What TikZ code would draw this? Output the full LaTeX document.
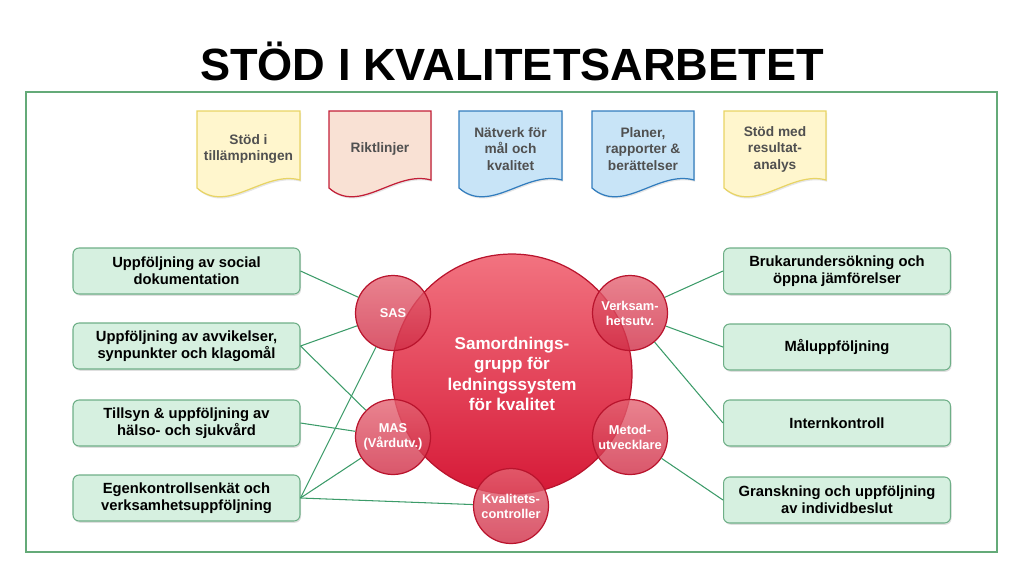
\documentclass[tikz,border=0pt]{standalone}
\usepackage{fontspec}
\setmainfont{Liberation Sans}
\usetikzlibrary{shadows}
\definecolor{framegreen}{RGB}{100,170,120}
\definecolor{linkgreen}{RGB}{60,155,105}
\definecolor{boxfill}{RGB}{214,240,224}
\definecolor{boxline}{RGB}{110,175,135}
\definecolor{docyellow}{RGB}{255,246,205}
\definecolor{docyellowline}{RGB}{232,212,100}
\definecolor{docpink}{RGB}{249,225,212}
\definecolor{docpinkline}{RGB}{195,30,55}
\definecolor{docblue}{RGB}{200,228,247}
\definecolor{docblueline}{RGB}{50,125,190}
\definecolor{doctxt}{RGB}{80,80,80}
\definecolor{ringtop}{RGB}{242,115,128}
\definecolor{ringbottom}{RGB}{214,25,55}
\definecolor{ringline}{RGB}{185,20,45}
\definecolor{smalltop}{RGB}{228,100,115}
\definecolor{smallbottom}{RGB}{208,45,70}
\begin{document}
\begin{tikzpicture}[x=0.02cm, y=-0.02cm,
      gbox/.style={draw=boxline, fill=boxfill, rounded corners=0.12cm,
        line width=0.6pt, minimum width=4.54cm, minimum height=0.92cm,
        align=center, inner sep=0pt,
        font=\fontsize{8.4}{9.6}\selectfont\bfseries,
        drop shadow={shadow xshift=0.6pt, shadow yshift=-1pt, opacity=0.25}},
      docpage/.style={line width=0.7pt,
        drop shadow={shadow xshift=0.6pt, shadow yshift=-1pt, opacity=0.2}},
      doctext/.style={align=center, text=doctxt,
        font=\fontsize{7.8}{9.4}\selectfont\bfseries},
      bigring/.style={circle, draw=ringline, line width=0.7pt,
        top color=ringtop, bottom color=ringbottom, minimum size=4.8cm,
        text=white, align=center,
        font=\fontsize{9.7}{11.6}\selectfont\bfseries},
      smallring/.style={circle, draw=ringline, line width=0.7pt,
        top color=smalltop, bottom color=smallbottom, fill opacity=0.8,
        text opacity=1, minimum size=1.5cm, inner sep=0pt,
        text=white, align=center,
        font=\fontsize{7.3}{8.5}\selectfont\bfseries},
      link/.style={draw=linkgreen, line width=0.6pt}]
      \useasboundingbox (0,0) rectangle (1024,576);
      \path (512,80) node[anchor=base, font=\fontsize{25.7}{30}\selectfont\bfseries] (title) {STÖD I KVALITETSARBETET};
      \draw[framegreen, line width=0.8pt] (26,92) rectangle (997,552);
      \filldraw[docpage, fill=docyellow, draw=docyellowline] (197,111) -- (300,111) -- (300,180) .. controls (264,170) and (228,215) .. (197,188) -- cycle;
      \filldraw[docpage, fill=docpink, draw=docpinkline] (329,111) -- (431,111) -- (431,180) .. controls (395,170) and (360,215) .. (329,188) -- cycle;
      \filldraw[docpage, fill=docblue, draw=docblueline] (459,111) -- (562,111) -- (562,180) .. controls (526,170) and (490,215) .. (459,188) -- cycle;
      \filldraw[docpage, fill=docblue, draw=docblueline] (592,111) -- (694,111) -- (694,180) .. controls (658,170) and (623,215) .. (592,188) -- cycle;
      \filldraw[docpage, fill=docyellow, draw=docyellowline] (724,111) -- (826,111) -- (826,180) .. controls (791,170) and (755,215) .. (724,188) -- cycle;
      \path (248.5,149) node[doctext] (tillamp) {Stöd i\\tillämpningen};
      \path (380,149) node[doctext] (riktl) {Riktlinjer};
      \path (510.5,149) node[doctext] (natverk) {Nätverk för\\mål och\\kvalitet};
      \path (643,149) node[doctext] (planer) {Planer,\\rapporter \&\\berättelser};
      \path (775,149) node[doctext] (resultat) {Stöd med\\resultat-\\analys};
      \path (186.5,271) node[gbox] (socdok) {Uppföljning av social\\dokumentation};
      \path (186.5,346) node[gbox] (avvik) {Uppföljning av avvikelser,\\synpunkter och klagomål};
      \path (186.5,423) node[gbox] (tillsyn) {Tillsyn \& uppföljning av\\hälso- och sjukvård};
      \path (186.5,498) node[gbox] (egenk) {Egenkontrollsenkät och\\verksamhetsuppföljning};
      \path (837,271) node[gbox] (bruk) {Brukarundersökning och\\öppna jämförelser};
      \path (837,347) node[gbox] (malupp) {Måluppföljning};
      \path (837,423) node[gbox] (intern) {Internkontroll};
      \path (837,500) node[gbox] (gransk) {Granskning och uppföljning\\av individbeslut};
      \path (512,374) node[bigring] (samord) {Samordnings-\\grupp för\\ledningssystem\\för kvalitet};
      \path (393,313) node[smallring] (sas) {SAS};
      \path (393,437) node[smallring] (mas) {MAS\\(Vårdutv.)};
      \path (630,313) node[smallring] (verks) {Verksam-\\hetsutv.};
      \path (630,437) node[smallring] (metod) {Metod-\\utvecklare};
      \path (511,506) node[smallring] (kvalc) {Kvalitets-\\controller};
      \draw[link] (socdok.east) -- (sas);
      \draw[link] (avvik.east) -- (sas);
      \draw[link] (avvik.east) -- (mas);
      \draw[link] (tillsyn.east) -- (mas);
      \draw[link] (egenk.east) -- (sas);
      \draw[link] (egenk.east) -- (mas);
      \draw[link] (egenk.east) -- (kvalc);
      \draw[link] (bruk.west) -- (verks);
      \draw[link] (malupp.west) -- (verks);
      \draw[link] (intern.west) -- (verks);
      \draw[link] (gransk.west) -- (metod);
     \end{tikzpicture}
\end{document}
